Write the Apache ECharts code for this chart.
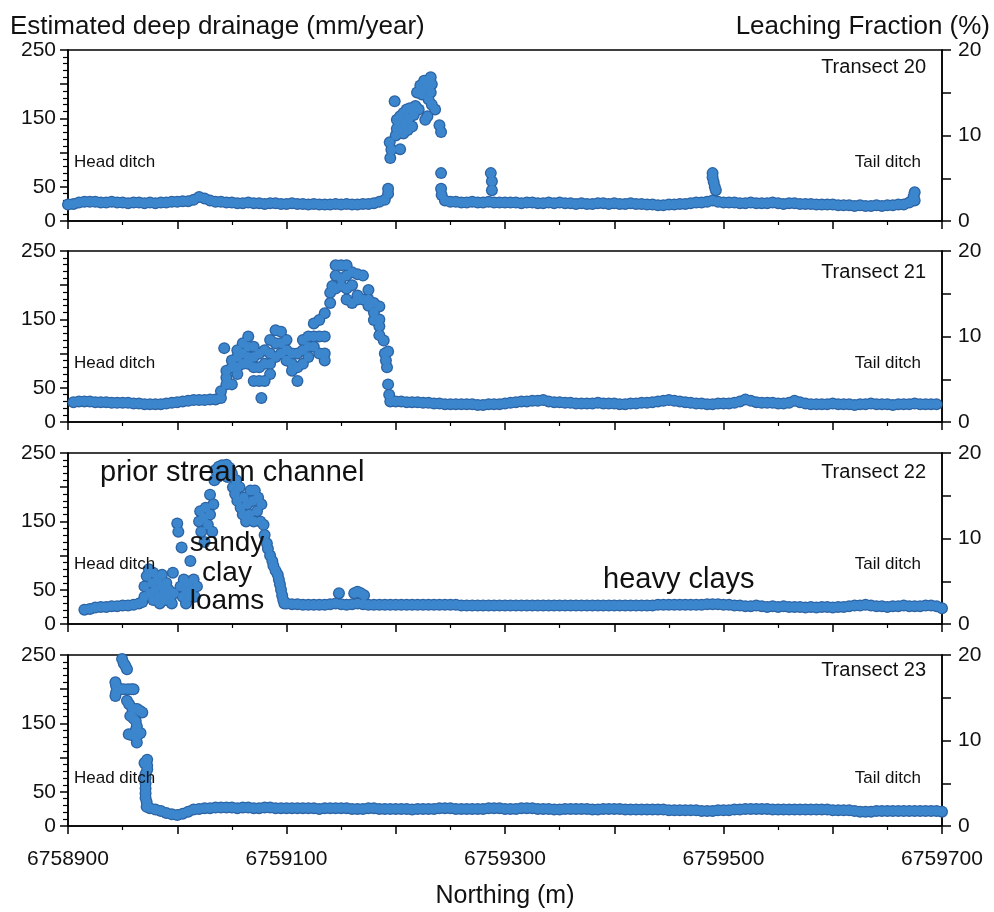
<!DOCTYPE html>
<html><head><meta charset="utf-8">
<script src="https://cdn.jsdelivr.net/npm/echarts@6/dist/echarts.min.js"></script>
<style>html,body{margin:0;padding:0;background:#fff}#c{width:994px;height:912px}</style>
</head><body><div id="c"></div>
<script>
// ---------------- DATA ----------------
const transectNames = ['Transect 20', 'Transect 21', 'Transect 22', 'Transect 23'];
const xTickLabels = [6758900, 6759100, 6759300, 6759500, 6759700];
const leftTickLabels = [0, 50, 150, 250];
const rightTickLabels = [0, 10, 20];
const SAMPLE_STEP = 5; // metres between readings along the transect

// Transect 20
const t20aStart = 6758900;
const t20a = [24,25,27,28,28,28,27,27,28,27, 27,26,27,27,26,27,26,27,27,28, 28,29,29,31,35,33,30,28,28,27,
  27,26,26,27,26,26,25,26,26,25, 25,26,25,25,24,25,24,24,24,25, 24,25,24,24,25,25,26,28,31];
const t20bStart = 6759245;
const t20b = [30,28,28,27,27,28,27,27,28,27, 27,27,27,27,26,27,27,26,26,27, 26,27,26,26,25,26,25,25,26,26,
  25,26,25,25,26,25,25,24,24,23, 23,24,24,25,25,26,27,27,28,30, 28,27,27,27,26,26,27,26,26,26,
  27,26,25,26,26,25,25,25,24,24, 24,24,23,23,23,22,23,22,22,23, 22,23,23,24,24,27,30];
const t20Extra = [[6759193,40],[6759193,47],[6759195,92],[6759194.5,115],[6759196,104],[6759199,175],[6759200,125],
  [6759201,135],[6759201,148],[6759203,143],[6759204,153],[6759204,105],[6759206,135],[6759207,158],[6759207,128],
  [6759209,143],[6759210,163],[6759211,133],[6759212,150],[6759213,165],[6759215,138],[6759216.5,155],[6759218,168],
  [6759219.5,188],[6759221,163],[6759222.5,198],[6759224,185],[6759226,205],[6759227,195],[6759227,148],[6759229,153],
  [6759230,178],[6759232,210],[6759232,188],[6759233,200],[6759233,170],[6759236,163],[6759240,140],[6759241.5,130],
  [6759241.5,70],[6759241.5,47],[6759242,38],[6759287,70],[6759288,58],[6759288,45],
  [6759490,70],[6759490,64],[6759491,57],[6759492,50],[6759493,45],[6759674,36],[6759675,42]];

// Transect 21
const t21aStart = 6758905;
const t21a = [29,30,30,30,29,29,29,28,28,28, 28,27,27,26,26,26,26,27,28,29, 30,31,32,32,32,33,33];
const t21bStart = 6759195;
const t21b = [30,30,30,29,29,29,28,28,27,27, 26,26,26,26,26,26,25,25,26,26, 26,27,28,29,30,30,31,31,32,30,
  29,29,28,28,27,27,27,27,28,27, 27,27,26,26,27,27,28,28,29,30, 31,32,31,30,29,28,27,27,26,26,
  27,27,27,28,30,33,31,29,28,28, 28,27,27,28,31,29,27,26,26,26, 26,27,26,26,26,25,26,26,27,26,
  26,26,25,26,26,26,27,26,26,26, 26];
const t21Extra = [[6759040,35],[6759040,45],[6759043,108],[6759045,55],[6759045,65],[6759045,75],[6759050,55],[6759050,80],
  [6759050,90],[6759055,70],[6759055,80],[6759055,95],[6759055,105],[6759060,85],[6759060,100],[6759060,115],
  [6759065,85],[6759065,95],[6759065,110],[6759065,125],[6759070,60],[6759070,80],[6759070,95],[6759070,110],
  [6759075,60],[6759075,80],[6759075,100],[6759077,35],[6759080,60],[6759080,85],[6759080,105],[6759085,70],
  [6759085,85],[6759085,100],[6759085,120],[6759090,95],[6759090,115],[6759090,134],[6759095,100],[6759095,115],
  [6759095,132],[6759100,90],[6759100,105],[6759100,120],[6759105,75],[6759105,85],[6759105,100],[6759110,60],
  [6759110,80],[6759110,100],[6759115,85],[6759115,105],[6759115,120],[6759120,95],[6759120,110],[6759120,125],
  [6759125,110],[6759125,125],[6759125,144],[6759130,100],[6759130,125],[6759130,149],[6759135,90],[6759135,100],
  [6759135,125],[6759135,159],[6759140,174],[6759140,189],[6759142,199],[6759145,195],[6759145,214],[6759145,229],
  [6759150,199],[6759150,210],[6759150,229],[6759155,179],[6759155,195],[6759155,214],[6759155,229],[6759160,174],
  [6759160,200],[6759160,219],[6759165,179],[6759165,185],[6759165,216],[6759170,179],[6759170,214],[6759175,170],
  [6759175,179],[6759175,193],[6759180,149],[6759180,160],[6759180,174],[6759185,127],[6759185,140],[6759185,150],
  [6759185,169],[6759189,119],[6759190,100],[6759191,90],[6759192,80],[6759193,103],[6759193,55],[6759194,40]];

// Transect 22
const t22aStart = 6758915;
const t22a = [21,22,24,25,25,26,26,27,27,28,30];
const t22bStart = 6759100;
const t22b = [30,29,29,28,28,28,28,28,29,30, 29,28,29,30,29,28,28,28,28,28, 28,28,28,28,28,28,28,28,28,28,
  28,28,27,27,27,27,27,27,27,27, 27,27,27,27,27,27,27,27,27,27, 27,27,27,27,27,27,27,27,27,27,
  27,27,27,27,27,27,27,27,28,28, 28,28,28,28,28,28,28,29,29,29, 28,28,27,27,26,26,27,26,25,26,
  25,26,25,25,25,24,25,24,25,25, 24,25,25,26,27,27,28,27,26,26, 25,26,26,27,26,26,26,27,27,26, 23];
const t22Extra = [[6758968,32],[6758970,40],[6758970,55],[6758972,70],[6758974,80],[6758975,45],[6758977,60],[6758978,35],
  [6758978,75],[6758980,50],[6758982,65],[6758983,40],[6758984,30],[6758985,55],[6758986,72],[6758988,45],[6758989,35],
  [6758990,60],[6758992,50],[6758994,40],[6758995,30],[6758996,75],[6758997,45],[6759000,147],[6759001,135],[6759003,55],
  [6759004,112],[6759005,40],[6759006,65],[6759008,30],[6759008,50],[6759010,60],[6759011,40],[6759012,92],[6759013,50],
  [6759015,65],[6759016,40],[6759018,55],[6759020,150],[6759021,165],[6759022,135],[6759024,155],[6759025,120],
  [6759026,170],[6759028,145],[6759030,189],[6759030,160],[6759032,135],[6759033,175],[6759034,210],[6759035,225],
  [6759037,215],[6759038,230],[6759040,220],[6759041,232],[6759043,225],[6759045,233],[6759046,215],[6759048,228],
  [6759050,220],[6759051,200],[6759053,190],[6759054,210],[6759055,180],[6759057,200],[6759058,170],[6759060,160],
  [6759061,185],[6759063,150],[6759064,175],[6759066,160],[6759067,195],[6759069,180],[6759070,150],[6759071,195],
  [6759073,165],[6759074,185],[6759076,150],[6759077,175],[6759079,145],[6759080,130],[6759082,118],[6759083,110],
  [6759085,100],[6759087,92],[6759088,85],[6759090,78],[6759092,72],[6759093,65],[6759094,58],[6759095,50],
  [6759096,42],[6759097,35],[6759098,30],
  [6759148,45],[6759162,45],[6759165,47],[6759168,45],[6759171,42]];

// Transect 23
const t23aStart = 6758975;
const t23a = [26,24,22,19,17,16,18,21,24,25, 26,26,27,27,27,27,26,27,27,26, 26,27,27,26,26,26,26,26,26,26,
  26,25,26,26,26,26,26,25,25,25, 26,26,25,25,25,25,25,25,24,25, 25,25,25,26,26,26,25,25,25,25,
  25,25,26,26,26,25,25,25,26,26, 26,25,25,25,24,24,25,25,25,25, 25,24,24,25,25,25,25,24,24,24,
  24,24,24,24,24,23,23,23,23,23, 23,22,22,22,23,23,23,24,24,25, 25,25,25,25,24,24,24,24,24,24,
  24,24,24,24,24,23,23,23,23,22, 21,21,21,22,22,22,22,22,22,22, 22,22,22,22,22,21];
const t23Extra = [[6758949.5,244],[6758951,238],[6758952.6,234],[6758954,229],[6758943.4,210],[6758944,205],[6758945,202],
  [6758943.4,190],[6758944,195],[6758948,200],[6758951,200],[6758955,200],[6758958,200],[6758960,200],[6758954,183],
  [6758956,178],[6758959,171],[6758961,171],[6758963.3,171],[6758966,168],[6758968,166],[6758957,161],[6758960,157],
  [6758962,153.5],[6758955.6,134],[6758958,133],[6758961.8,131],[6758964,133],[6758966.4,136],[6758963,146],[6758962,140],
  [6758963,122],[6758970,92],[6758972.5,97],[6758972.5,88],[6758972.5,82.5],[6758971,76],[6758971,70],[6758971,62],
  [6758971,55],[6758971,48],[6758971,41],[6758972,35],[6758972,28]];

// ---------------- BUILD ----------------
function sampled(start, vals) { return vals.map((v, i) => [start + i * SAMPLE_STEP, v]); }
const transectData = [
  sampled(t20aStart, t20a).concat(sampled(t20bStart, t20b), t20Extra),
  sampled(t21aStart, t21a).concat(sampled(t21bStart, t21b), t21Extra),
  sampled(t22aStart, t22a).concat(sampled(t22bStart, t22b), t22Extra),
  sampled(t23aStart, t23a).concat(t23Extra)
];

const FONT = "Arial, 'Liberation Sans', Helvetica, sans-serif";
const GRID_TOPS = [50, 251, 453, 655];
const GRID_H = 171, GRID_L = 68, GRID_R = 52;
const black = '#000';

const grids = [], xAxes = [], yAxes = [], series = [], graphics = [];
GRID_TOPS.forEach((top, k) => {
  grids.push({ left: GRID_L, right: GRID_R, top: top, height: GRID_H, show: true,
    borderColor: black, borderWidth: 1.5, backgroundColor: 'transparent' });
  xAxes.push({
    gridIndex: k, type: 'value', min: xTickLabels[0], max: xTickLabels[xTickLabels.length - 1], interval: 100,
    axisLine: { show: true, onZero: false, lineStyle: { color: black, width: 1.5 } },
    axisTick: { show: true, length: 8, lineStyle: { color: black, width: 1.5 } },
    minorTick: { show: true, splitNumber: 2, length: 4, lineStyle: { color: black, width: 1.2 } },
    splitLine: { show: false },
    axisLabel: { show: k === 3, margin: 23, fontSize: 21, color: '#111', fontFamily: FONT,
      formatter: v => xTickLabels.includes(v) ? String(v) : '' },
    name: k === 3 ? 'Northing (m)' : '', nameLocation: 'middle', nameGap: 58,
    nameTextStyle: { fontSize: 25, color: '#111', fontFamily: FONT }
  });
  yAxes.push({
    gridIndex: k, type: 'value', position: 'left', min: 0, max: 250, interval: 50,
    axisLine: { show: true, onZero: false, lineStyle: { color: black, width: 1.5 } },
    axisTick: { show: true, length: 8, lineStyle: { color: black, width: 1.5 } },
    minorTick: { show: true, splitNumber: 5, length: 5, lineStyle: { color: black, width: 1.2 } },
    splitLine: { show: false },
    axisLabel: { margin: 12, fontSize: 21, color: '#111', fontFamily: FONT,
      formatter: v => leftTickLabels.includes(v) ? String(v) : '' }
  });
  yAxes.push({
    gridIndex: k, type: 'value', position: 'right', min: 0, max: 20, interval: 5,
    axisLine: { show: true, onZero: false, lineStyle: { color: black, width: 1.5 } },
    axisTick: { show: true, length: 9, lineStyle: { color: black, width: 1.5 } },
    splitLine: { show: false },
    axisLabel: { margin: 16, fontSize: 21, color: '#111', fontFamily: FONT,
      formatter: v => rightTickLabels.includes(v) ? String(v) : '' }
  });
  // outline layer (dark rim of the point cloud)
  series.push({
    type: 'scatter', name: transectNames[k] + ' outline', xAxisIndex: k, yAxisIndex: 2 * k,
    data: transectData[k], symbol: 'circle', symbolSize: 12, clip: true, z: 2,
    itemStyle: { color: '#2b62a3', opacity: 1 }, silent: true,
    emphasis: { disabled: true }, animation: false
  });
  // fill layer
  series.push({
    type: 'scatter', name: transectNames[k], xAxisIndex: k, yAxisIndex: 2 * k,
    data: transectData[k], symbol: 'circle', symbolSize: 9.5, clip: true, z: 3,
    itemStyle: { color: '#3b86cd', opacity: 1 },
    emphasis: { disabled: true }, animation: false
  });
});

function txt(x, y, text, size, align) {
  graphics.push({ type: 'text', x: x, y: y, z: 100,
    style: { text: text, fontSize: size, fontFamily: FONT, fill: '#111', align: align || 'left', verticalAlign: 'middle' } });
}
// headers
txt(10, 27, 'Estimated deep drainage (mm/year)', 26, 'left');
txt(990, 27, 'Leaching Fraction (%)', 26, 'right');
// per-panel labels
const transectLabelY = [67, 272, 472, 670];
const ditchLabelY = [162, 363, 564, 778];
transectNames.forEach((n, k) => {
  txt(926, transectLabelY[k], n, 20, 'right');
  txt(74, ditchLabelY[k], 'Head ditch', 17, 'left');
  txt(921, ditchLabelY[k], 'Tail ditch', 17, 'right');
});
// soil annotations (Transect 22)
txt(100, 473, 'prior stream channel', 29, 'left');
txt(227, 543, 'sandy', 28, 'center');
txt(227, 573, 'clay', 28, 'center');
txt(227, 601, 'loams', 28, 'center');
txt(603, 580, 'heavy clays', 29, 'left');

const chart = echarts.init(document.getElementById('c'), null, { renderer: 'canvas' });
chart.setOption({
  animation: false,
  backgroundColor: '#fff',
  grid: grids, xAxis: xAxes, yAxis: yAxes, series: series, graphic: graphics
});
</script></body></html>
